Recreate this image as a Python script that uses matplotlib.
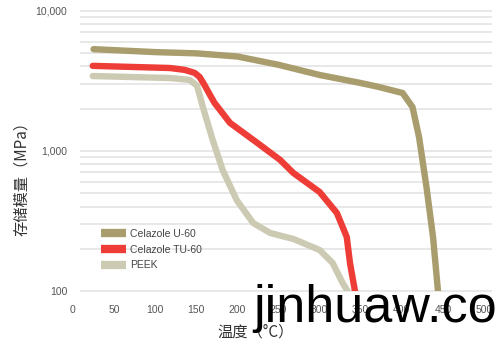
import matplotlib.pyplot as plt
from matplotlib.lines import Line2D

# temperature (C) / storage modulus (MPa)
u60_t = [25, 100, 150, 200, 250, 300, 350, 372, 401, 413, 421, 430, 438, 444]
u60_e = [5300, 5050, 4950, 4700, 4100, 3470, 3040, 2850, 2580, 2050, 1250, 552, 243, 100]

tu60_t = [24, 118, 136, 148, 154, 160, 166, 172, 191, 224, 252, 268, 300, 321, 333, 337, 343]
tu60_e = [4030, 3890, 3770, 3590, 3360, 2940, 2540, 2200, 1580, 1140, 860, 695, 508, 360, 243, 158, 100]

peek_t = [24, 118, 142, 151, 154, 158, 170, 182, 199, 219, 240, 268, 300, 316, 328, 334]
peek_e = [3410, 3300, 3200, 2900, 2500, 2050, 1190, 730, 446, 306, 259, 235, 196, 158, 114, 100]

labels = ['Celazole U-60', 'Celazole TU-60', 'PEEK']
colors = ['#A99D6D', '#EE3D36', '#CDCAB3']

xticks = [0, 50, 100, 150, 200, 250, 300, 350, 400, 450, 500]
yticks = [100, 1000, 10000]
yticklabels = ['100', '1,000', '10,000']

plt.rcParams['font.family'] = ['Liberation Sans', 'DejaVu Sans']

fig = plt.figure(figsize=(5, 3.5), dpi=100)
ax = fig.add_axes([0.146, 0.1686, 0.822, 0.8014])
ax.set_yscale('log')
ax.set_xlim(0, 500)
ax.set_ylim(100, 10000)

# light gridlines, slightly shifted right like the original
grid_y = [m * 10**d for d in (2, 3) for m in range(1, 10)] + [10000]
ax.hlines(grid_y, 0.017, 1.02, transform=ax.get_yaxis_transform(),
          colors='#E6E6E6', linewidth=1.3, clip_on=False, zorder=0)

ax.plot(u60_t, u60_e, color=colors[0], lw=4.6, solid_capstyle='round', solid_joinstyle='round', zorder=3)
ax.plot(tu60_t, tu60_e, color=colors[1], lw=4.6, solid_capstyle='round', solid_joinstyle='round', zorder=3)
ax.plot(peek_t, peek_e, color=colors[2], lw=4.6, solid_capstyle='round', solid_joinstyle='round', zorder=2)

for s in ax.spines.values():
    s.set_visible(False)
ax.set_xticks(xticks)
ax.set_xticklabels([str(v) for v in xticks])
ax.set_yticks(yticks)
ax.set_yticklabels(yticklabels)
ax.yaxis.set_minor_locator(plt.NullLocator())
ax.tick_params(axis='both', length=0, labelsize=7.5, labelcolor='#555555')
ax.tick_params(axis='x', pad=10)
ax.tick_params(axis='y', pad=4)

handles = [Line2D([0], [0], color=c, lw=6, solid_capstyle='butt') for c in colors]
leg = ax.legend(handles, labels, loc='lower left', bbox_to_anchor=(0.045, 0.04),
                frameon=False, fontsize=7.5, handlelength=2.4, handletextpad=0.4,
                labelspacing=0.55)
for t in leg.get_texts():
    t.set_color('#444444')

cjk = ['Noto Sans CJK SC', 'DejaVu Sans']
fig.text(0.044, 0.5, '存储模量（MPa）', rotation=90, ha='center', va='center',
         fontsize=11, color='#333333', family=cjk)
fig.text(0.512, 0.051, '温度（°C）', ha='center', va='center',
         fontsize=11, color='#333333', family=cjk)

# watermark
fig.text(0.506, 0.08, 'jinhuaw.co', ha='left', va='baseline', fontsize=37.5,
         color='black', family='Liberation Sans', zorder=10)

fig.savefig('out.png', dpi=100)
